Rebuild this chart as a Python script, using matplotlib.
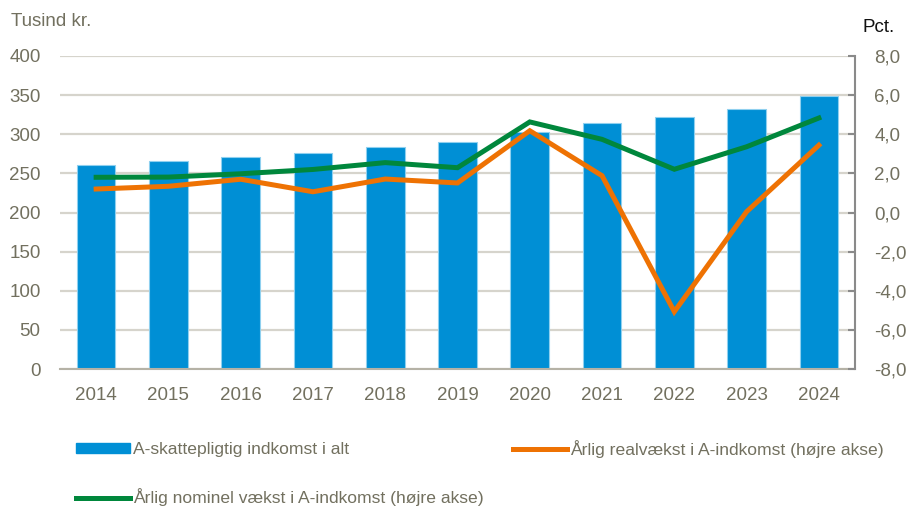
import matplotlib
matplotlib.use("Agg")
import matplotlib.pyplot as plt
from matplotlib.lines import Line2D
from matplotlib.patches import Patch
import matplotlib.ticker as mticker

years = ["2014", "2015", "2016", "2017", "2018", "2019", "2020", "2021", "2022", "2023", "2024"]
income = [260.7, 265.4, 270.9, 276.4, 283.7, 290.0, 302.9, 314.8, 322.0, 332.3, 348.9]
real_growth = [1.20, 1.34, 1.70, 1.06, 1.71, 1.51, 4.18, 1.88, -5.07, 0.04, 3.44]
nominal_growth = [1.80, 1.81, 1.98, 2.20, 2.55, 2.29, 4.63, 3.74, 2.21, 3.36, 4.83]

left_ticks = [0, 50, 100, 150, 200, 250, 300, 350, 400]
right_ticks = [-8, -6, -4, -2, 0, 2, 4, 6, 8]

label_bar = "A-skattepligtig indkomst i alt"
label_real = "Årlig realvækst i A-indkomst (højre akse)"
label_nom = "Årlig nominel vækst i A-indkomst (højre akse)"

BLUE = "#008fd5"
ORANGE = "#ee7203"
GREEN = "#00873c"
TXT = "#72705f"
GRID = "#d6d4cc"

plt.rcParams['font.family'] = ['Liberation Sans Narrow', 'Liberation Sans', 'DejaVu Sans']
FS = 13.5
LFS = 12.6

fig = plt.figure(figsize=(9.09, 5.08), dpi=100)
ax = fig.add_axes([60/909, 1-369/508, (855-60)/909, (369-56)/508])
ax2 = ax.twinx()

x = list(range(len(years)))
ax.bar(x, income, width=0.535, color=BLUE, edgecolor="#8fd0ef", linewidth=0.8, zorder=2)
ax.set_xlim(-0.5, len(years) - 0.5)
ax.set_ylim(0, 400)
ax.set_yticks(left_ticks)
ax.set_xticks(x)
ax.set_xticklabels(years)
ax.grid(axis='y', color=GRID, linewidth=1.6, zorder=0)
ax.set_axisbelow(True)
for s in ['left', 'top', 'right']:
    ax.spines[s].set_visible(False)
ax.spines['bottom'].set_color("#b5b2a6")
ax.spines['bottom'].set_linewidth(1.5)
ax.tick_params(axis='y', length=0, pad=14, labelsize=FS, labelcolor=TXT)
ax.tick_params(axis='x', length=0, pad=13, labelsize=FS, labelcolor=TXT)

ax2.plot(x, real_growth, color=ORANGE, linewidth=3.6, solid_joinstyle='miter', zorder=3)
ax2.plot(x, nominal_growth, color=GREEN, linewidth=3.6, solid_joinstyle='miter', zorder=4)
ax2.set_ylim(-8, 8)
ax2.set_yticks(right_ticks)
ax2.yaxis.set_major_formatter(mticker.FuncFormatter(lambda v, p: f"{v:.1f}".replace(".", ",")))
for s in ['left', 'top', 'bottom']:
    ax2.spines[s].set_visible(False)
ax2.spines['right'].set_color("#8a8a8a")
ax2.spines['right'].set_linewidth(1.5)
ax2.tick_params(axis='y', direction='in', length=5, width=1.5, color="#8a8a8a",
                pad=14, labelsize=FS, labelcolor=TXT)
for lab in ax2.get_yticklabels():
    lab.set_horizontalalignment('left')

fig.text(11/909, 1-22/508, "Tusind kr.", fontsize=FS, color=TXT, va='center', ha='left')
fig.text(895/909, 1-28/508, "Pct.", fontsize=FS, color="#111111", va='center', ha='right')

leg_kw = dict(frameon=False, fontsize=LFS, handlelength=3.1, handleheight=0.5,
              handletextpad=0.17, borderpad=0, borderaxespad=0)
h_bar = Patch(facecolor=BLUE, edgecolor=BLUE)
h_nom = Line2D([], [], color=GREEN, linewidth=3.6)
h_real = Line2D([], [], color=ORANGE, linewidth=3.6)

leg1 = fig.legend([h_bar, h_nom], [label_bar, label_nom], loc='center left',
                  bbox_to_anchor=(76/909, 1-474/508), labelspacing=1.8, **leg_kw)
leg2 = fig.legend([h_real], [label_real], loc='center left',
                  bbox_to_anchor=(513/909, 1-449/508), **leg_kw)
for lg in (leg1, leg2):
    for t in lg.get_texts():
        t.set_color(TXT)

fig.savefig("out.png", dpi=100)
